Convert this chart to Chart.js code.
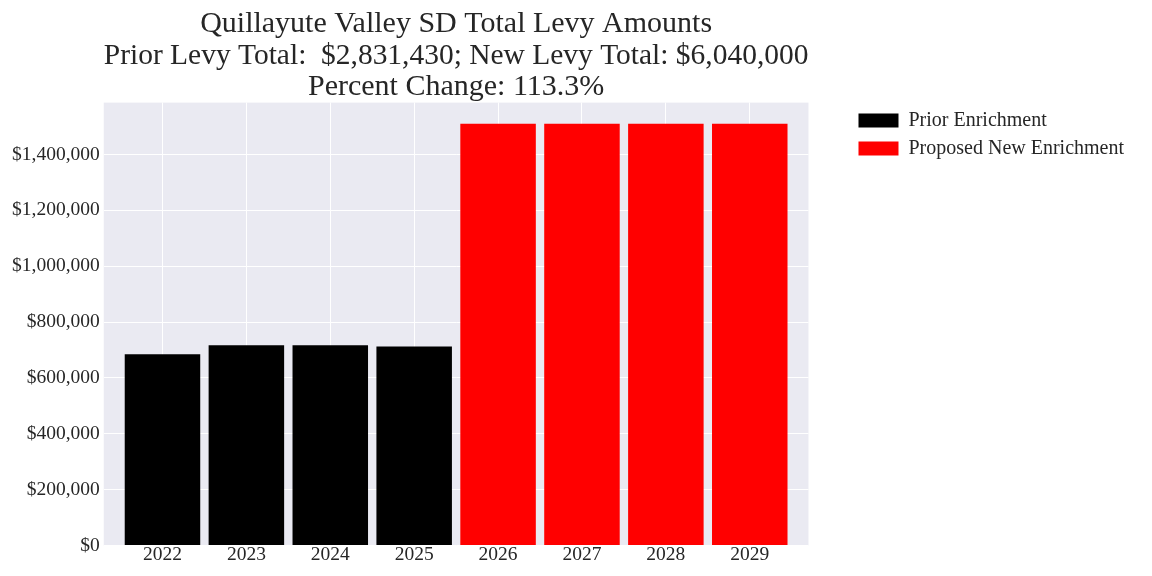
<!DOCTYPE html>
<html>
<head>
<meta charset="utf-8">
<script src="https://cdn.jsdelivr.net/npm/chart.js@4"></script>
<style>
  body { margin: 0; background: #ffffff; }
</style>
</head>
<body>
<canvas id="levyChart" width="1152" height="576"></canvas>
<script>
const years = ["2022", "2023", "2024", "2025", "2026", "2027", "2028", "2029"];
const priorYears = [0, 1, 2, 3];
const priorValues = [685000, 717000, 717000, 712430];
const newYears = [4, 5, 6, 7];
const newValues = [1510000, 1510000, 1510000, 1510000];
const yTicks = [0, 200000, 400000, 600000, 800000, 1000000, 1200000, 1400000];

const titleLines = [
  "Quillayute Valley SD Total Levy Amounts",
  "Prior Levy Total:  $2,831,430; New Levy Total: $6,040,000",
  "Percent Change: 113.3%"
];

const serif = "'Liberation Serif', 'DejaVu Serif', serif";
const textColor = "#262626";

// grey plot area like the seaborn style
const plotBackground = {
  id: "plotBackground",
  beforeDraw(chart) {
    const { ctx, chartArea } = chart;
    ctx.save();
    ctx.fillStyle = "#EAEAF2";
    ctx.fillRect(chartArea.left, chartArea.top, chartArea.width, chartArea.height);
    ctx.restore();
  }
};

const ctx = document.getElementById("levyChart");

new Chart(ctx, {
  type: "bar",
  data: {
    datasets: [
      {
        label: "Prior Enrichment",
        data: priorYears.map((x, i) => ({ x: x, y: priorValues[i] })),
        backgroundColor: "#000000",
        grouped: false,
        barPercentage: 0.9,
        categoryPercentage: 1.0
      },
      {
        label: "Proposed New Enrichment",
        data: newYears.map((x, i) => ({ x: x, y: newValues[i] })),
        backgroundColor: "#FF0000",
        grouped: false,
        barPercentage: 0.9,
        categoryPercentage: 1.0
      }
    ]
  },
  options: {
    responsive: false,
    animation: false,
    layout: {
      padding: { left: 8, right: 18, top: 0, bottom: 11 }
    },
    plugins: {
      title: {
        display: true,
        text: titleLines,
        color: textColor,
        fullSize: false,
        font: { family: serif, size: 30, weight: "normal", lineHeight: 1.04 },
        padding: { top: 9, bottom: 0 }
      },
      legend: {
        position: "right",
        align: "start",
        fullSize: false,
        maxWidth: 400,
        labels: {
          color: textColor,
          boxWidth: 40,
          boxHeight: 14,
          padding: 8,
          font: { family: serif, size: 20 }
        }
      },
      tooltip: { enabled: false }
    },
    scales: {
      x: {
        type: "linear",
        offset: false,
        min: -0.7,
        max: 7.7,
        afterBuildTicks: (axis) => {
          axis.ticks = years.map((y, i) => ({ value: i }));
        },
        ticks: {
          color: textColor,
          padding: -2,
          maxRotation: 0,
          font: { family: serif, size: 19.5 },
          callback: (value) => years[value]
        },
        grid: { color: "#ffffff", lineWidth: 1, drawTicks: false, offset: false },
        border: { display: false }
      },
      y: {
        min: 0,
        max: 1585500,
        afterBuildTicks: (axis) => {
          axis.ticks = yTicks.map((v) => ({ value: v }));
        },
        ticks: {
          color: textColor,
          padding: 4,
          font: { family: serif, size: 19.5 },
          callback: (value) => "$" + value.toLocaleString("en-US")
        },
        grid: { color: "#ffffff", lineWidth: 1, drawTicks: false },
        border: { display: false }
      },
      // empty axis that only keeps a gap between the plot and the legend
      gap: {
        position: "right",
        display: true,
        ticks: { display: false },
        grid: { display: false, drawTicks: false },
        border: { display: false },
        afterFit: (axis) => {
          axis.width = 42;
        }
      }
    }
  },
  plugins: [plotBackground]
});
</script>
</body>
</html>
